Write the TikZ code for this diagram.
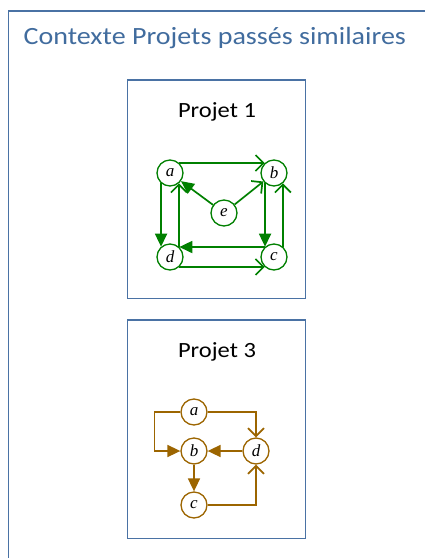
\documentclass[tikz,border=0pt]{standalone}
\usepackage{fontspec}
\setmainfont[FakeStretch=1.13]{Carlito}
\newfontfamily\serifit{Liberation Serif}
\usetikzlibrary{arrows.meta}
\definecolor{frameblue}{RGB}{74,114,164}
\definecolor{titleblue}{RGB}{65,108,158}
\definecolor{ggreen}{RGB}{0,128,0}
\definecolor{bbrown}{RGB}{156,101,0}
\tikzset{
  vtx/.style={circle, draw, fill=white, line width=1.3pt, minimum size=26pt, inner sep=0pt,
    font=\serifit\itshape\fontsize{17}{17}\selectfont},
  fil/.style={-{Triangle[length=13pt,width=12pt]}},
  opn/.style={-{Straight Barb[length=8pt,width=16pt]}},
  edg/.style={line width=1.7pt},
  pbox/.style={draw=frameblue, line width=1.3pt},
  ptitle/.style={anchor=base, inner sep=0pt, font=\fontsize{21.7}{22}\selectfont},
}
\begin{document}
\begin{tikzpicture}[x=1pt,y=-1pt]
\useasboundingbox (0,0) rectangle (425,558);
\clip (0,0) rectangle (425,558);
% outer frame
\draw[draw=frameblue, line width=1.8pt] (440,11) -- (8.5,11) -- (8.5,570);
\node[anchor=base west, inner sep=0pt, text=titleblue, font=\fontsize{24.8}{25}\selectfont] (title) at (23.5,44.5) {Contexte Projets passés similaires};
% Projet 1
\draw[pbox] (127.5,80) rectangle (305.5,298.5);
\node[ptitle] (p1) at (217,117) {Projet 1};
\begin{scope}[every node/.style={vtx, draw=ggreen}]
\node (a) at (170,173) {a};
\node (b) at (274,173) {b};
\node (d) at (170,257) {d};
\node (c) at (274,257) {c};
\node (e) at (224,213) {e};
\end{scope}
\begin{scope}[ggreen, edg]
\draw[opn] (a.47) -- (b.133);
\draw[fil] (a.-131) -- (d.131);
\draw[opn] (d.49) -- (a.-49);
\draw[fil] (b.-131) -- (c.131);
\draw[opn] (c.49) -- (b.-49);
\draw[fil] (c.133) -- (d.47);
\draw[opn] (d.-47) -- (c.-133);
\draw[fil] (e) -- (a);
\draw[opn] (e) -- (b);
\end{scope}
% Projet 3
\draw[pbox] (127.5,320) rectangle (305.5,538.5);
\node[ptitle] (p3) at (217,357) {Projet 3};
\begin{scope}[every node/.style={vtx, draw=bbrown}]
\node (a3) at (194,412) {a};
\node (b3) at (194,451) {b};
\node (c3) at (194,505) {c};
\node (d3) at (256,451) {d};
\end{scope}
\begin{scope}[bbrown, edg]
\draw[fil] (a3.west) -- ++(-26,0) |- (b3);
\draw[opn] (a3) -| (d3);
\draw[fil] (d3) -- (b3);
\draw[fil] (b3) -- (c3);
\draw[opn] (c3) -| (d3);
\end{scope}
\end{tikzpicture}
\end{document}
